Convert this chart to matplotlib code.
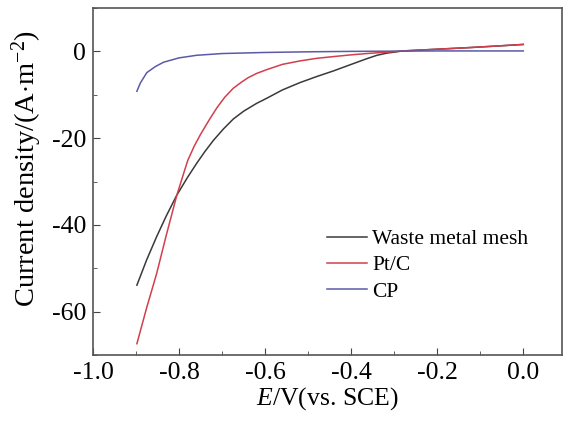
import matplotlib
matplotlib.use('Agg')
import matplotlib.pyplot as plt
from matplotlib.ticker import MultipleLocator, FuncFormatter

# potentials (V vs SCE) and current densities
e_mesh = [-0.898, -0.875, -0.852, -0.83, -0.805, -0.78, -0.759, -0.74, -0.72, -0.697,
          -0.674, -0.65, -0.62, -0.596, -0.56, -0.519, -0.48, -0.441, -0.40, -0.364,
          -0.34, -0.317, -0.28, -0.20, -0.12, -0.05, 0.0]
j_mesh = [-53.9, -48.0, -42.7, -38.0, -33.1, -29.0, -25.8, -23.1, -20.5, -17.9,
          -15.6, -13.8, -12.0, -10.8, -8.9, -7.2, -5.8, -4.5, -3.0, -1.7,
          -0.9, -0.4, 0.1, 0.5, 0.9, 1.3, 1.6]

e_ptc = [-0.898, -0.875, -0.852, -0.83, -0.805, -0.78, -0.765, -0.751, -0.73, -0.712,
         -0.694, -0.674, -0.655, -0.64, -0.62, -0.596, -0.56, -0.519, -0.48, -0.441,
         -0.40, -0.364, -0.32, -0.28, -0.20, -0.12, -0.05, 0.0]
j_ptc = [-67.4, -59.0, -51.2, -42.5, -33.1, -25.2, -21.9, -19.3, -15.8, -13.0,
         -10.6, -8.5, -7.1, -6.1, -5.1, -4.2, -3.0, -2.2, -1.6, -1.2,
         -0.8, -0.5, -0.2, 0.1, 0.5, 0.9, 1.3, 1.6]

e_cp = [-0.898, -0.89, -0.875, -0.855, -0.836, -0.80, -0.759, -0.70, -0.60, -0.50,
        -0.40, -0.30, -0.20, -0.10, 0.0]
j_cp = [-9.2, -7.3, -4.9, -3.5, -2.5, -1.5, -0.9, -0.5, -0.25, -0.1,
        0.0, 0.05, 0.1, 0.1, 0.1]

labels = ['Waste metal mesh', 'Pt/C', 'CP']
colors = ['#3a3a3a', '#d0404c', '#5a5aa8']

plt.rcParams['font.family'] = ['Liberation Serif', 'DejaVu Serif']
plt.rcParams['mathtext.fontset'] = 'custom'
plt.rcParams['mathtext.rm'] = 'Liberation Serif'
plt.rcParams['mathtext.it'] = 'Liberation Serif:italic'

fig = plt.figure(figsize=(5.63, 4.21), dpi=100)
ax = fig.add_axes([93 / 563, 1 - 355 / 421, (562 - 93) / 563, (355 - 8) / 421])

for e, j, lab, c in zip([e_mesh, e_ptc, e_cp], [j_mesh, j_ptc, j_cp], labels, colors):
    ax.plot(e, j, color=c, lw=1.1, label=lab)

ax.set_xlim(-1.0, 0.09)
ax.set_ylim(-70, 10)
ax.xaxis.set_major_locator(MultipleLocator(0.2))
ax.xaxis.set_minor_locator(MultipleLocator(0.1))
ax.yaxis.set_major_locator(MultipleLocator(20))
ax.yaxis.set_minor_locator(MultipleLocator(10))
ax.xaxis.set_major_formatter(FuncFormatter(lambda v, p: f'{v:.1f}'))
ax.yaxis.set_major_formatter(FuncFormatter(lambda v, p: f'{v:.0f}'))
ax.tick_params(which='both', direction='in', labelsize=18.5, color='#444444')
ax.tick_params(which='major', length=5)
ax.tick_params(which='minor', length=3)
ax.tick_params(axis='x', pad=5)
ax.tick_params(axis='y', pad=5)
for s in ax.spines.values():
    s.set_color('#555555')
    s.set_linewidth(1.2)

ax.set_xlabel('$\\mathit{E}$/V(vs. SCE)', fontsize=18.5, labelpad=1)
ax.set_ylabel('Current density/(A$\\cdot$m$^{-2}$)', fontsize=20.5)
ax.yaxis.set_label_coords(-0.104, 0.536)

ax.legend(loc='upper left', bbox_to_anchor=(0.499, 0.363), frameon=False, fontsize=15.5,
          handlelength=1.85, labelspacing=0.29, handletextpad=0.25,
          borderpad=0, borderaxespad=0)

fig.savefig('out.png', dpi=100)
